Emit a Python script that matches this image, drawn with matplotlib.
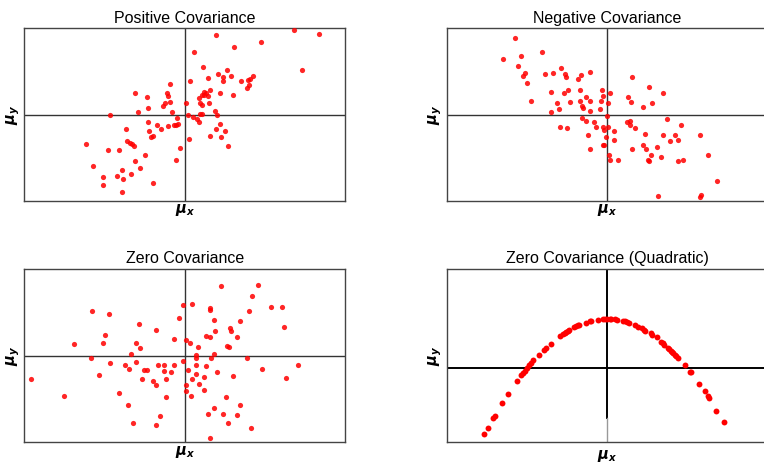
import matplotlib
matplotlib.use("Agg")
import matplotlib.pyplot as plt

plt.rcParams['font.family'] = ['Liberation Sans', 'DejaVu Sans']
plt.rcParams['mathtext.fontset'] = 'custom'
plt.rcParams['mathtext.it'] = 'DejaVu Sans:italic:bold'
plt.rcParams['mathtext.rm'] = 'DejaVu Sans:bold'

# positive covariance
pos_x = [-0.37, -1.23, -0.94, -0.45, -0.42, -0.37, -0.50, -0.55, -0.91, -0.32,
         -1.16, -1.86, -0.20, -0.91, -0.69, -0.42, -0.27, -0.21, -0.16, -0.59,
         -1.46, -0.88, -0.85, -0.79, -1.44, -1.37, -1.32, -1.27, -2.45, -1.91,
         -1.65, -0.13, -0.99, -1.24, -0.23, -2.28, -1.11, -1.56, -1.33, -1.68,
         -2.04, -1.53, -0.79, -2.04, -1.56,
         2.73, 3.35, 0.77, 1.91, 1.22, 0.22, 0.46, 1.04, 2.93, 0.82,
         1.15, 0.94, 0.96, 0.57, 0.13, 1.71, 1.63, 1.57, 1.41, 1.61,
         1.55, 0.62, 0.49, 0.52, 0.87, 1.19, 0.59, 0.42, 0.47, 0.35,
         0.03, 0.37, 0.43, 0.61, 0.76, 0.42, 0.39, 0.08, 0.80, 0.20,
         0.30, 0.35, 0.87, 0.79, 0.99, 0.64, 0.89, 0.10, 1.07]
pos_y = [0.71, 0.49, 0.40, 0.49, 0.44, 0.29, 0.27, 0.19, 0.15, 0.06,
         0.05, -0.01, -0.08, -0.18, -0.23, -0.26, -0.25, -0.23, -0.22, -0.33,
         -0.33, -0.38, -0.52, -0.49, -0.61, -0.65, -0.67, -0.72, -0.69, -0.82,
         -0.82, -0.77, -0.93, -1.08, -1.06, -1.18, -1.23, -1.29, -1.37, -1.41,
         -1.44, -1.48, -1.59, -1.62, -1.79,
         1.95, 1.87, 1.85, 1.69, 1.56, 1.44, 1.10, 1.04, 1.03, 0.93,
         0.89, 0.87, 0.79, 0.84, 0.78, 0.90, 0.83, 0.80, 0.79, 0.69,
         0.62, 0.56, 0.53, 0.49, 0.51, 0.46, 0.44, 0.46, 0.46, 0.39,
         0.27, 0.27, 0.22, 0.26, 0.09, 0.02, 0.01, -0.01, -0.01, -0.05,
         -0.10, -0.16, -0.22, -0.33, -0.39, -0.50, -0.52, -0.56, -0.72]

# negative covariance
neg_x = [-2.30, -1.63, -2.60, -2.14, -2.22, -2.06, -2.09, -1.55, -1.36, -1.15,
         -1.06, -1.02, -1.99, -0.72, -0.65, -0.67, -0.98, -1.08, -1.40, -0.54,
         -0.69, -0.64, -0.60, -1.26, -1.20, -0.93, -1.90, -1.40, -0.62, -0.52,
         -1.18, -1.01,
         -0.42, 0.61, 1.03, 1.38, 0.06, -0.14, -0.11, -0.16, 0.02, -0.42,
         0.53, 0.60, 0.88, 1.11, -0.18, -0.44, 0.00, 1.49, 1.85, 0.50,
         0.56, 0.58, 0.69, -0.34, -0.28, -0.10, 0.02, -0.08, 0.93, 1.40,
         1.68, 1.77, 1.56, 2.32, -0.49, -0.03, 0.17, 0.17, -0.10, -0.07,
         0.89, 0.96, 0.63, 1.23, -0.42, 0.05, 0.07, 0.27, 1.09, 1.01,
         1.04, 1.33, 1.76, 1.89, 2.51, 2.74, 1.26, 2.33, 2.31]
neg_y = [1.77, 1.45, 1.28, 1.36, 1.12, 0.96, 0.90, 0.95, 0.97, 1.07,
         0.93, 0.87, 0.73, 0.83, 0.91, 0.57, 0.56, 0.51, 0.53, 0.40,
         0.31, 0.20, 0.15, 0.26, 0.12, 0.29, 0.32, 0.06, -0.08, -0.14,
         -0.29, -0.32,
         0.98, 0.87, 0.63, 0.51, 0.51, 0.57, 0.43, 0.32, 0.27, 0.32,
         0.40, 0.29, 0.18, 0.26, 0.12, 0.09, -0.03, -0.09, -0.25, -0.18,
         -0.14, -0.25, -0.32, -0.17, -0.29, -0.28, -0.28, -0.35, -0.45, -0.46,
         -0.48, -0.58, -0.61, -0.46, -0.46, -0.52, -0.38, -0.58, -0.70, -0.70,
         -0.70, -0.79, -0.79, -0.75, -0.80, -0.93, -1.04, -1.05, -0.94, -1.04,
         -1.07, -0.98, -1.08, -1.04, -0.93, -1.54, -1.89, -1.86, -1.91]

# zero covariance
zero_x = [-2.31, -1.90, -1.14, -0.72, -1.98, -2.75, -2.04, -1.22, -1.12, -0.28,
          -0.15, -1.34, -2.33, -1.86, -1.22, -1.50, -1.38, -2.13, -1.02, -0.95,
          -0.66, -0.52, -0.27, -0.52, -0.35, -3.84, -1.06, -0.79, -0.71, -0.47,
          -1.65, -3.00, -0.48, -1.42, -0.63, -1.30, -0.71,
          0.91, 1.83, 1.68, -0.04, 0.17, 0.62, 0.63, 2.14, 2.41, 1.61,
          0.73, 1.38, 2.48, 1.13, 1.16, 0.76, 0.52, 0.63, 1.29, 0.02,
          0.13, 0.33, 1.04, 1.11, 0.28, 0.28, 0.73, 0.65, 1.54, -0.05,
          0.27, 0.52, 0.07, 0.81, 1.93, 2.82, 1.19, 2.51, 0.28, 0.48,
          0.17, 0.35, 0.02, 0.02, 0.48, 0.15, 1.02, 1.38, 0.72, 0.57,
          0.94, 1.29, 1.08, 1.66, 0.63]
zero_y = [1.02, 0.97, 0.72, 0.59, 0.47, 0.26, 0.29, 0.30, 0.17, 0.39,
          0.88, 0.04, -0.05, -0.17, -0.15, -0.22, -0.31, -0.44, -0.33, -0.33,
          -0.22, -0.22, -0.22, -0.35, -0.38, -0.55, -0.55, -0.58, -0.68, -0.55,
          -0.86, -0.92, -0.95, -1.15, -1.39, -1.55, -1.59,
          1.60, 1.63, 1.38, 1.16, 1.19, 1.09, 1.05, 1.12, 1.12, 1.02,
          0.82, 0.80, 0.65, 0.63, 0.57, 0.57, 0.45, 0.44, 0.44, 0.37,
          0.29, 0.19, 0.22, 0.19, 0.02, -0.06, 0.04, -0.05, -0.05, -0.13,
          -0.22, -0.24, -0.34, -0.38, -0.30, -0.22, -0.48, -0.51, -0.43, -0.49,
          -0.54, -0.65, -0.68, -0.81, -0.79, -0.92, -0.95, -1.13, -1.20, -1.34,
          -1.34, -1.37, -1.55, -1.66, -1.91]

# zero covariance, quadratic
quad_x = [-1.54, -1.49, -1.42, -1.40, -1.31, -1.23, -1.12, -1.07, -1.05, -1.03,
          -1.00, -0.98, -0.95, -0.92, -0.85, -0.79, -0.76, -0.70, -0.59, -0.55,
          -0.53, -0.51, -0.49, -0.47, -0.41, -0.39, -0.36, -0.35,
          -0.27, -0.21, -0.20, -0.12, -0.05, -0.03, 0.00, 0.03, 0.05, 0.10,
          0.12, 0.20, 0.22, 0.25, 0.27, 0.35, 0.39, 0.43, 0.46, 0.47,
          0.54, 0.56, 0.62, 0.67, 0.69, 0.71, 0.76, 0.77, 0.79, 0.81,
          0.82, 0.85, 0.86, 0.88, 0.97, 1.03, 1.05, 1.15, 1.22, 1.25,
          1.27, 1.36, 1.45]
quad_y = [-1.34, -1.21, -1.01, -0.96, -0.71, -0.52, -0.26, -0.14, -0.11, -0.05,
          0.01, 0.06, 0.11, 0.16, 0.27, 0.37, 0.41, 0.49, 0.64, 0.69,
          0.71, 0.73, 0.75, 0.77, 0.83, 0.85, 0.87, 0.87,
          0.91, 0.95, 0.95, 0.98, 0.99, 1.00, 1.00, 1.00, 1.00, 0.99,
          0.98, 0.95, 0.94, 0.93, 0.91, 0.86, 0.83, 0.81, 0.77, 0.75,
          0.70, 0.67, 0.63, 0.53, 0.50, 0.47, 0.41, 0.39, 0.35, 0.33,
          0.30, 0.27, 0.24, 0.21, 0.07, -0.08, -0.09, -0.33, -0.47, -0.57,
          -0.61, -0.87, -1.09]

titles = ["Positive Covariance", "Negative Covariance",
          "Zero Covariance", "Zero Covariance (Quadratic)"]

fig = plt.figure(figsize=(7.64, 4.65), dpi=100)

W, H = 764, 465
boxes = [(24.3, 28.3, 321, 172.7), (446.7, 28.3, 321, 172.7),
         (24.3, 269, 321, 173.3), (446.7, 269, 321, 173.3)]
axs = []
for (l, t, w, h) in boxes:
    ax = fig.add_axes([l / W, 1 - (t + h) / H, w / W, h / H])
    axs.append(ax)

data = [(pos_x, pos_y), (neg_x, neg_y), (zero_x, zero_y)]
for i in range(3):
    ax = axs[i]
    ax.scatter(data[i][0], data[i][1], s=14, color='red', alpha=0.85,
               linewidths=0, zorder=3)
    ax.set_xlim(-4, 4)
    ax.set_ylim(-2, 2)
    ax.axhline(0, color='#333333', lw=1, zorder=2)
    ax.axvline(0, color='#333333', lw=1, zorder=2)

ax = axs[3]
ax.scatter(quad_x, quad_y, s=18, color='red', linewidths=0, zorder=3)
ax.set_xlim(-2, 2)
ax.set_ylim(-1.5, 2)
ax.axhline(0, color='black', lw=1.4, zorder=2)
ax.plot([0, 0], [-1, 2], color='black', lw=1.4, zorder=2)
ax.plot([0, 0], [-1.5, -1], color='#999999', lw=1, zorder=2)

for i, ax in enumerate(axs):
    ax.set_xticks([])
    ax.set_yticks([])
    for sp in ax.spines.values():
        sp.set_color('#444444')
        sp.set_linewidth(1)
    ax.set_title(titles[i], fontsize=11.5, pad=4)
    ax.set_ylabel(r'$\mu_y$', fontsize=10.5, labelpad=2)
    if i == 3:
        ax.set_xlabel(r'$\mu_x$', fontsize=10.5, labelpad=4)
    else:
        ax.set_xlabel(r'$\mu_x$', fontsize=10.5, labelpad=1)

fig.savefig('out.png', dpi=100)
